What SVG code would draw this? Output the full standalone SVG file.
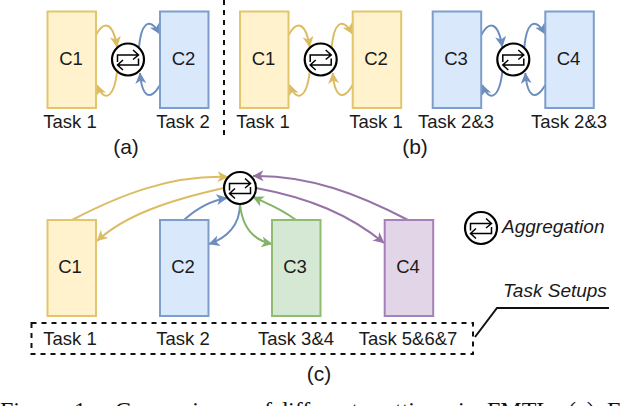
<svg xmlns="http://www.w3.org/2000/svg" width="620" height="406" viewBox="0 0 620 406">
<style>
text{font-family:"Liberation Sans",Arial,sans-serif;font-size:18.500px;fill:#1a1a1a;text-anchor:middle}
.sub{font-size:21px}
.cap{font-family:"Liberation Serif","Times New Roman",serif;font-size:24px;text-anchor:start;fill:#111}
.it{font-style:italic;text-anchor:start;font-size:19px}
.box{stroke-width:2}
.y{fill:#fff2cc;stroke:#e3c56e}
.b{fill:#dae8fc;stroke:#7d9ecb}
.g{fill:#d5e8d4;stroke:#8fbc70}
.p{fill:#e1d5e7;stroke:#a680b8}
.c{fill:none;stroke-width:2}
.cy{stroke:#dcbc62;marker-end:url(#ay)}
.cb{stroke:#6c8ebf;marker-end:url(#ab)}
.cg{stroke:#82b366;marker-end:url(#ag)}
.cp{stroke:#9673a6;marker-end:url(#ap)}
.ring{fill:#fff;stroke:#000;stroke-width:2.200}
.ico{fill:none;stroke:#000;stroke-width:1.500}
</style>
<defs>
<marker id="ay" markerUnits="userSpaceOnUse" markerWidth="13" markerHeight="12" refX="10.500" refY="5.500" orient="auto"><path d="M0,0L11,5.500L0,11L3,5.500Z" fill="#dcbc62"/></marker>
<marker id="ab" markerUnits="userSpaceOnUse" markerWidth="13" markerHeight="12" refX="10.500" refY="5.500" orient="auto"><path d="M0,0L11,5.500L0,11L3,5.500Z" fill="#6c8ebf"/></marker>
<marker id="ag" markerUnits="userSpaceOnUse" markerWidth="13" markerHeight="12" refX="10.500" refY="5.500" orient="auto"><path d="M0,0L11,5.500L0,11L3,5.500Z" fill="#82b366"/></marker>
<marker id="ap" markerUnits="userSpaceOnUse" markerWidth="13" markerHeight="12" refX="10.500" refY="5.500" orient="auto"><path d="M0,0L11,5.500L0,11L3,5.500Z" fill="#9673a6"/></marker>
<g id="agg">
<circle r="16" class="ring"/>
<path class="ico" d="M-10.500,2.500V-4.500H10.500M5,-9.500L10.500,-4.500L5,0M10.500,-1V5.500H-10.500M-5,0.500L-10.500,5.500L-5,10.500"/>
</g>
</defs>
<g id="connectors">
<g id="conn-a">
<path class="c cy" d="M96,35C104,20 113,22 117,47"/>
<path class="c cy" d="M117,72C114,98 104,103 97,85"/>
<path class="c cb" d="M139,47C141,26 148,14 160,34"/>
<path class="c cb" d="M160,85C150,102 142,97 140,73"/>
</g>
<g id="conn-b1" transform="translate(192.700,0)">
<path class="c cy" d="M96,35C104,20 113,22 117,47"/>
<path class="c cy" d="M117,72C114,98 104,103 97,85"/>
<path class="c cy" d="M139,47C141,26 148,14 160,34"/>
<path class="c cy" d="M160,85C150,102 142,97 140,73"/>
</g>
<g id="conn-b2" transform="translate(385.300,0)">
<path class="c cb" d="M96,35C104,20 113,22 117,47"/>
<path class="c cb" d="M117,72C114,98 104,103 97,85"/>
<path class="c cb" d="M139,47C141,26 148,14 160,34"/>
<path class="c cb" d="M160,85C150,102 142,97 140,73"/>
</g>
<g id="conn-c">
<path class="c cy" d="M72,220C120,195 170,175 228,177"/>
<path class="c cy" d="M224,188C170,200 125,215 97,241"/>
<path class="c cb" d="M184,220C195,210 208,201 227,198"/>
<path class="c cb" d="M240,204C240,225 227,238 209,244"/>
<path class="c cg" d="M296,220C280,208 268,204 253,197"/>
<path class="c cg" d="M240,204C242,225 252,240 272,244"/>
<path class="c cp" d="M408,220C360,195 310,175 253,176"/>
<path class="c cp" d="M256,188C310,198 350,215 384,243"/>
</g>
</g>
<path id="divider" d="M224,0V140" fill="none" stroke="#111" stroke-width="2" stroke-dasharray="5 5"/>
<g id="a-c1"><rect class="box y" x="47.500" y="11.500" width="48.500" height="96.500"/><text x="71" y="65">C1</text></g>
<g id="a-c2"><rect class="box b" x="160" y="11.500" width="48.500" height="96.500"/><text x="183.500" y="65">C2</text></g>
<g id="b-c1"><rect class="box y" x="240" y="11.500" width="48.500" height="96.500"/><text x="263.500" y="65">C1</text></g>
<g id="b-c2"><rect class="box y" x="352.700" y="11.500" width="48.500" height="96.500"/><text x="376" y="65">C2</text></g>
<g id="b-c3"><rect class="box b" x="432.700" y="11.500" width="48.500" height="96.500"/><text x="456" y="65">C3</text></g>
<g id="b-c4"><rect class="box b" x="545.300" y="11.500" width="48.500" height="96.500"/><text x="568.500" y="65">C4</text></g>
<g id="c-c1"><rect class="box y" x="47.500" y="220" width="48.500" height="96"/><text x="70" y="273">C1</text></g>
<g id="c-c2"><rect class="box b" x="160" y="220" width="48.500" height="96"/><text x="183" y="273">C2</text></g>
<g id="c-c3"><rect class="box g" x="272" y="220" width="48.500" height="96"/><text x="295" y="273">C3</text></g>
<g id="c-c4"><rect class="box p" x="384.700" y="220" width="48.500" height="96"/><text x="408" y="273">C4</text></g>
<g id="agg-a"><use href="#agg" x="128" y="59.500"/></g>
<g id="agg-b1"><use href="#agg" x="320.700" y="59.500"/></g>
<g id="agg-b2"><use href="#agg" x="513.300" y="59.500"/></g>
<g id="agg-c"><use href="#agg" x="240" y="188"/></g>
<g id="legend"><use href="#agg" x="481" y="228"/><text class="it" x="502" y="233">Aggregation</text></g>
<g id="labels">
<text x="70" y="128">Task 1</text>
<text x="183" y="128">Task 2</text>
<text x="263" y="128">Task 1</text>
<text x="376" y="128">Task 1</text>
<text x="456" y="128">Task 2&amp;3</text>
<text x="569" y="128">Task 2&amp;3</text>
<text class="sub" x="126" y="154">(a)</text>
<text class="sub" x="415" y="154">(b)</text>
<text x="70" y="345">Task 1</text>
<text x="183" y="345">Task 2</text>
<text x="296" y="345">Task 3&amp;4</text>
<text x="408" y="345">Task 5&amp;6&amp;7</text>
<text class="sub" x="319" y="381">(c)</text>
</g>
<g id="task-setups">
<rect x="31.500" y="323" width="441.500" height="31" fill="none" stroke="#111" stroke-width="2" stroke-dasharray="5 5"/>
<path d="M475,337L497,308H609" fill="none" stroke="#111" stroke-width="2"/>
<text class="it" x="503" y="297">Task Setups</text>
</g>
<g id="caption">
<text class="cap" x="0" y="418">Figure</text><text class="cap" x="74" y="418">1:</text>
<text class="cap" x="115" y="418">Comparison</text><text class="cap" x="252" y="418">of</text>
<text class="cap" x="276" y="418">different</text><text class="cap" x="375" y="418">settings</text>
<text class="cap" x="458" y="418">in</text><text class="cap" x="487" y="418">FMTL.</text>
<text class="cap" x="568" y="418">(a)</text><text class="cap" x="607" y="418">F</text>
</g>
</svg>
